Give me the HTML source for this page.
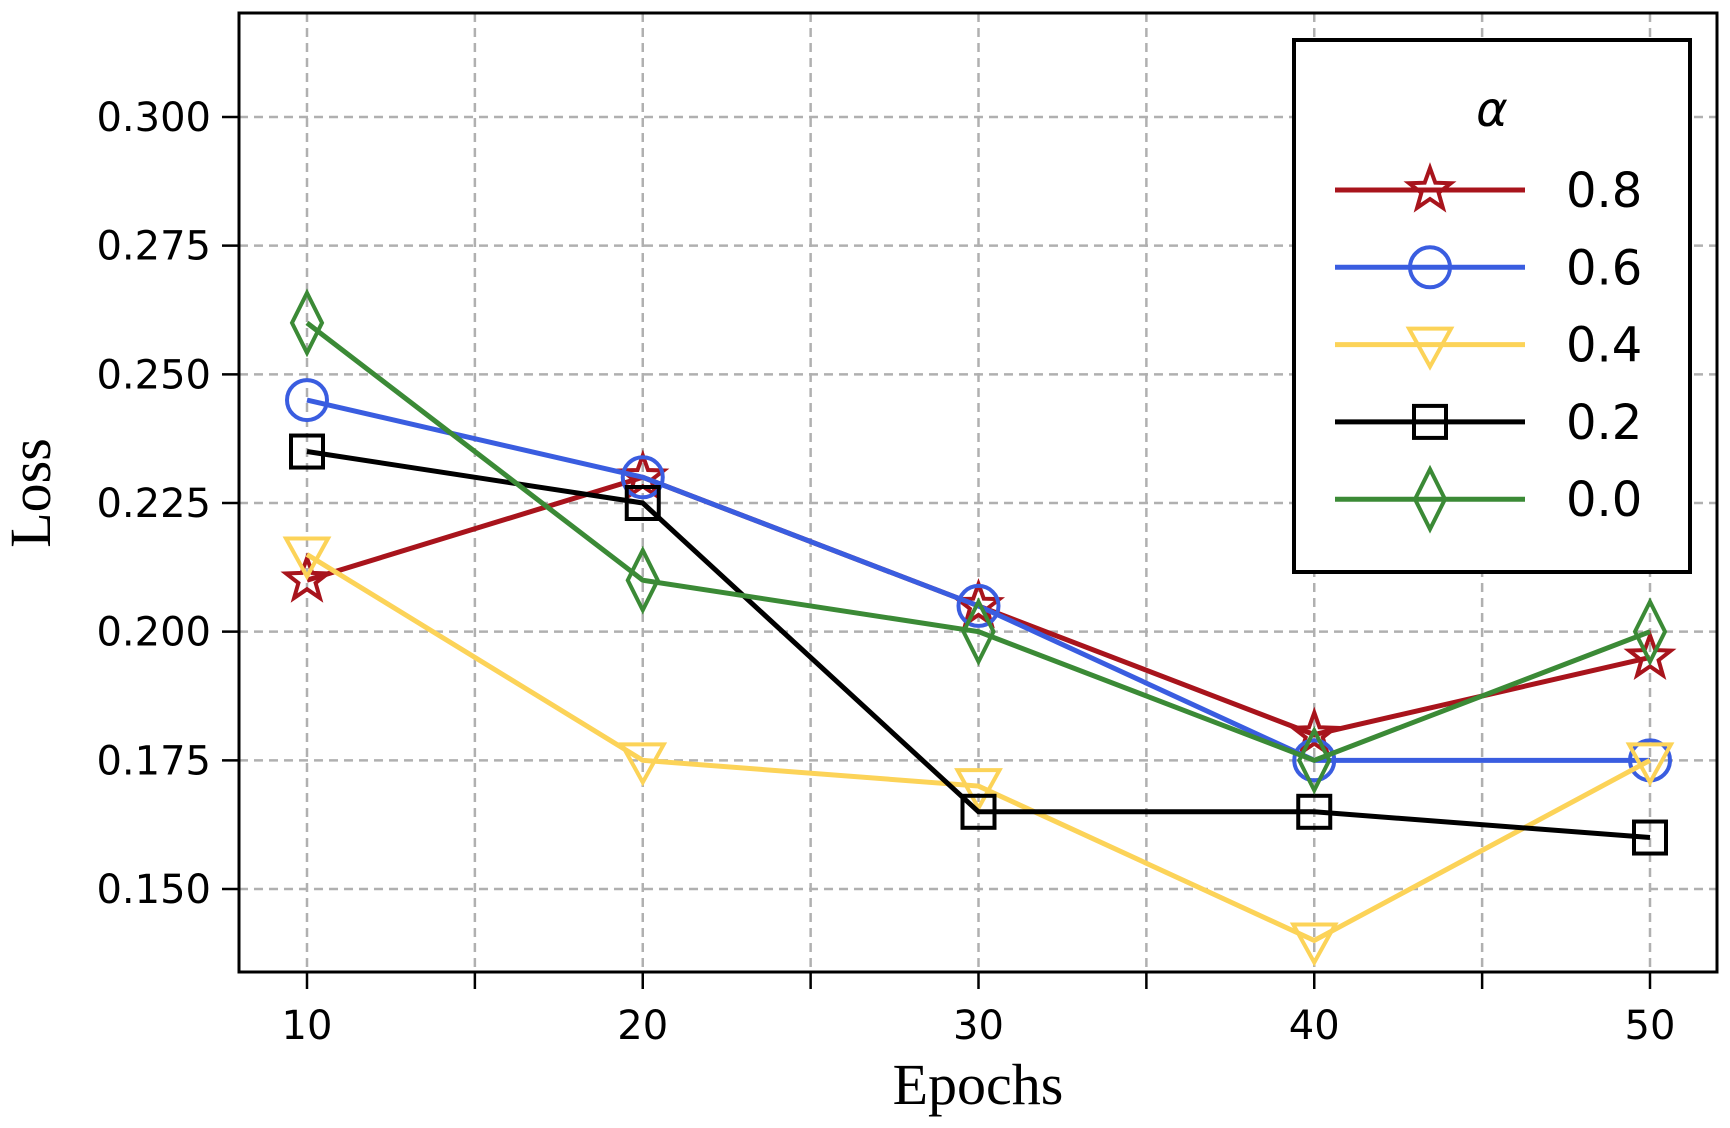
<!DOCTYPE html>
<html><head><meta charset="utf-8"><style>body{margin:0;background:#fff}svg{display:block}</style></head>
<body>
<svg id="chart" width="1730" height="1128" xmlns="http://www.w3.org/2000/svg"></svg>
<script>
const epochs = [10, 20, 30, 40, 50];
const s08 = [0.21, 0.23, 0.205, 0.18, 0.195];
const s06 = [0.245, 0.23, 0.205, 0.175, 0.175];
const s04 = [0.215, 0.175, 0.17, 0.14, 0.175];
const s02 = [0.235, 0.225, 0.165, 0.165, 0.16];
const s00 = [0.26, 0.21, 0.2, 0.175, 0.2];
const seriesLabels = ['0.8', '0.6', '0.4', '0.2', '0.0'];
const yTicks = [0.150, 0.175, 0.200, 0.225, 0.250, 0.275, 0.300];
const xTicks = [10, 20, 30, 40, 50];
const xMinor = [15, 25, 35, 45];

const NS = 'http://www.w3.org/2000/svg';
const svg = document.getElementById('chart');
const L = 239, R = 1717, T = 13, B = 972;
const xs = v => 307 + (v - 10) * (1650 - 307) / 40;
const ys = v => 889 - (v - 0.15) * (889 - 117) / 0.15;
function mk(tag, attrs, parent) {
  const e = document.createElementNS(NS, tag);
  for (const k in attrs) e.setAttribute(k, attrs[k]);
  (parent || svg).appendChild(e);
  return e;
}
[...xTicks, ...xMinor].forEach(v => {
  const g = mk('line', {x1: xs(v), x2: xs(v), y1: T, y2: B, stroke: '#b0b0b0', 'stroke-width': 2.5, 'stroke-dasharray': '9,6'});
  
  
});
yTicks.forEach(v => {
  const g = mk('line', {x1: L, x2: R, y1: ys(v), y2: ys(v), stroke: '#b0b0b0', 'stroke-width': 2.5, 'stroke-dasharray': '9,6'});
  
  
});
xTicks.forEach(v => {
  mk('line', {x1: xs(v), x2: xs(v), y1: B, y2: B + 17, stroke: '#000', 'stroke-width': 2.5});
  const t = mk('text', {x: xs(v), y: 1039, 'text-anchor': 'middle', 'font-size': 40, 'font-family': 'DejaVu Sans, sans-serif'});
  t.textContent = v;
  
  
});
xMinor.forEach(v => mk('line', {x1: xs(v), x2: xs(v), y1: B, y2: B + 17, stroke: '#000', 'stroke-width': 2.5}));
yTicks.forEach(v => {
  mk('line', {x1: L - 17, x2: L, y1: ys(v), y2: ys(v), stroke: '#000', 'stroke-width': 2.5});
  const t = mk('text', {x: L - 28, y: ys(v) + 14, 'text-anchor': 'end', 'font-size': 40, 'font-family': 'DejaVu Sans, sans-serif'});
  t.textContent = v.toFixed(3);
  
  
});
const xl = mk('text', {x: 978, y: 1104, 'text-anchor': 'middle', 'font-size': 58, 'font-family': 'Liberation Serif, serif'});
xl.textContent = 'Epochs';


const yl = mk('text', {x: 0, y: 0, transform: 'translate(50,493) rotate(-90)', 'text-anchor': 'middle', 'font-size': 58, 'font-family': 'Liberation Serif, serif'});
yl.textContent = 'Loss';



function marker(type, cx, cy, color, parent) {
  const r = 20;
  let e;
  if (type === 'circle') e = mk('circle', {cx, cy, r, fill: 'none', stroke: color, 'stroke-width': 4}, parent);
  else if (type === 'square') e = mk('rect', {x: cx - 16, y: cy - 16, width: 32, height: 32, fill: 'none', stroke: color, 'stroke-width': 4}, parent);
  else if (type === 'tri') e = mk('polygon', {points: `${cx - 21},${cy - 16} ${cx + 21},${cy - 16} ${cx},${cy + 22}`, fill: 'none', stroke: color, 'stroke-width': 4}, parent);
  else if (type === 'diamond') e = mk('polygon', {points: `${cx},${cy - 30} ${cx + 15},${cy} ${cx},${cy + 30} ${cx - 15},${cy}`, fill: 'none', stroke: color, 'stroke-width': 4}, parent);
  else {
    let p = [];
    for (let i = 0; i < 10; i++) {
      const a = -Math.PI / 2 + i * Math.PI / 5, rr = i % 2 ? 9 : 22;
      p.push((cx + rr * Math.cos(a)).toFixed(1) + ',' + (cy + rr * Math.sin(a)).toFixed(1));
    }
    e = mk('polygon', {points: p.join(' '), fill: 'none', stroke: color, 'stroke-width': 4}, parent);
  }
  return e;
}
const series = [
  {vals: s08, color: '#a8141c', m: 'star', name: 'series-0-8'},
  {vals: s06, color: '#3a5de0', m: 'circle', name: 'series-0-6'},
  {vals: s04, color: '#fcd358', m: 'tri', name: 'series-0-4'},
  {vals: s02, color: '#000000', m: 'square', name: 'series-0-2'},
  {vals: s00, color: '#3b8a36', m: 'diamond', name: 'series-0-0'}
];
series.forEach(s => {
  const g = mk('g', {});
  
  
  const pl = mk('polyline', {points: s.vals.map((v, i) => xs(epochs[i]) + ',' + ys(v)).join(' '), fill: 'none', stroke: s.color, 'stroke-width': 5}, g);
  
  
  s.vals.forEach((v, i) => {
    const m = marker(s.m, xs(epochs[i]), ys(v), s.color, g);
    
    
  });
});
const fr = mk('rect', {x: L, y: T, width: R - L, height: B - T, fill: 'none', stroke: '#000', 'stroke-width': 3});


const lg = mk('g', {});


mk('rect', {x: 1294, y: 40, width: 396, height: 532, fill: '#fff', stroke: '#000', 'stroke-width': 4}, lg);
const lt = mk('text', {x: 1492, y: 126, 'text-anchor': 'middle', 'font-size': 48, 'font-style': 'italic', 'font-family': 'DejaVu Sans, sans-serif'}, lg);
lt.textContent = 'α';


series.forEach((s, i) => {
  const y = 190 + i * 77.3;
  const e = mk('g', {}, lg);
  
  
  mk('line', {x1: 1335, x2: 1525, y1: y, y2: y, stroke: s.color, 'stroke-width': 5}, e);
  marker(s.m, 1430, y, s.color, e);
  const t = mk('text', {x: 1566, y: y + 17, 'font-size': 48, 'font-family': 'DejaVu Sans, sans-serif'}, e);
  t.textContent = seriesLabels[i];
});
</script>
</body></html>
